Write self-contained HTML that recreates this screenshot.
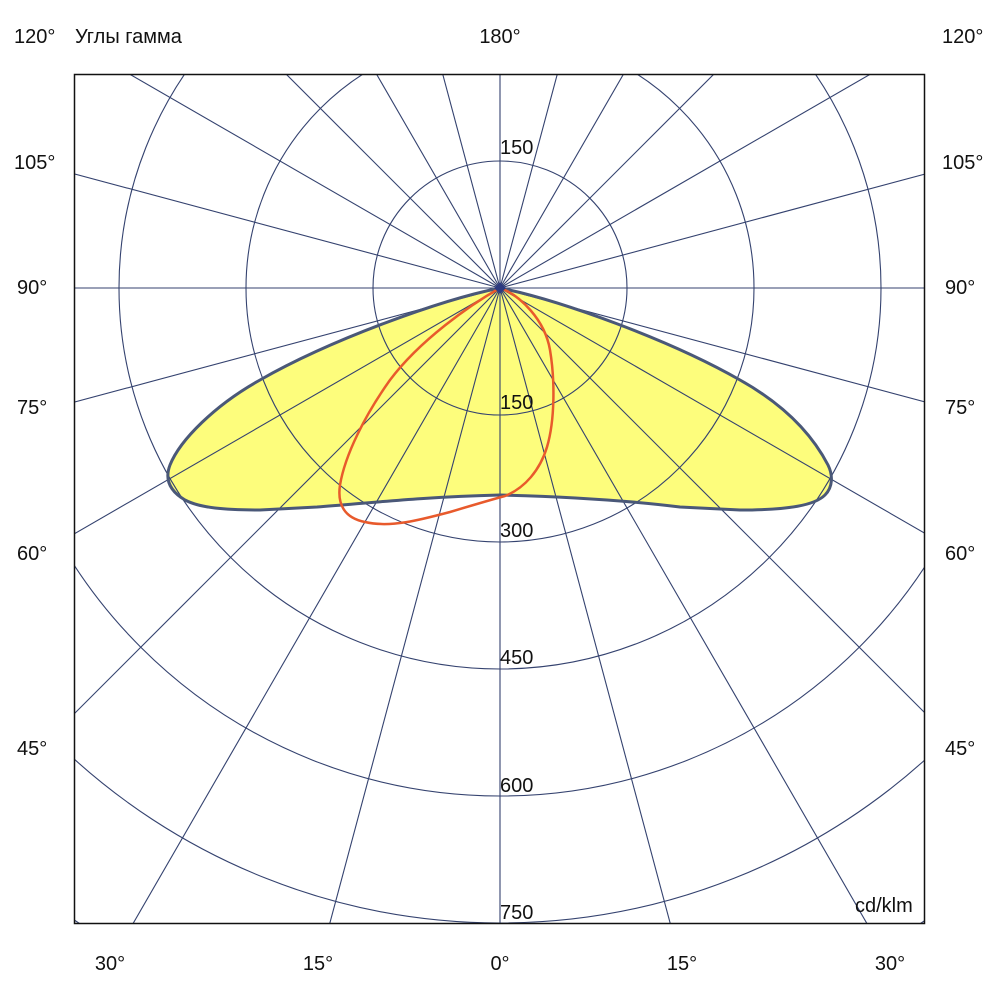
<!DOCTYPE html>
<html><head><meta charset="utf-8"><style>
html,body{margin:0;padding:0;background:#fff;width:1000px;height:1000px;overflow:hidden;}
svg{display:block;}
text{font-family:"Liberation Sans",Arial,sans-serif;font-size:20px;fill:#111;}
</style></head><body>
<svg width="1000" height="1000" viewBox="0 0 1000 1000" xmlns="http://www.w3.org/2000/svg">
<defs><clipPath id="c"><rect x="74" y="74" width="851" height="850"/></clipPath></defs>
<rect x="0" y="0" width="1000" height="1000" fill="#fff"/>
<g clip-path="url(#c)">
<path d="M500,288 C440,300 330,340 260,380 C215,405 180,440 170,465 C165,478 168,490 185,500 C200,508 225,510 260,510 L317,507 C370,503 420,497 500,495 C580,497 640,502 680,507 L740,510 C790,510 815,505 825,495 C833,487 833,475 828,465 C815,440 790,408 740,380 C670,340 560,300 500,288 Z" fill="#fdfd7c" stroke="none"/>
<g fill="none" stroke="#34426f" stroke-width="1.1">
<circle cx="500" cy="288" r="127"/>
<circle cx="500" cy="288" r="254"/>
<circle cx="500" cy="288" r="381"/>
<circle cx="500" cy="288" r="508"/>
<circle cx="500" cy="288" r="635"/>
<circle cx="500" cy="288" r="762"/>
<line x1="500" y1="288" x2="500" y2="1288"/>
<line x1="500" y1="288" x2="758.8" y2="1254"/>
<line x1="500" y1="288" x2="1000" y2="1154"/>
<line x1="500" y1="288" x2="1207" y2="995"/>
<line x1="500" y1="288" x2="1366" y2="788"/>
<line x1="500" y1="288" x2="1466" y2="547"/>
<line x1="500" y1="288" x2="1500" y2="288"/>
<line x1="500" y1="288" x2="1466" y2="29"/>
<line x1="500" y1="288" x2="1366" y2="-212"/>
<line x1="500" y1="288" x2="1207" y2="-419"/>
<line x1="500" y1="288" x2="1000" y2="-578"/>
<line x1="500" y1="288" x2="758.8" y2="-678"/>
<line x1="500" y1="288" x2="500" y2="-712"/>
<line x1="500" y1="288" x2="241.2" y2="-678"/>
<line x1="500" y1="288" x2="0" y2="-578"/>
<line x1="500" y1="288" x2="-207" y2="-419"/>
<line x1="500" y1="288" x2="-366" y2="-212"/>
<line x1="500" y1="288" x2="-466" y2="29"/>
<line x1="500" y1="288" x2="-500" y2="288"/>
<line x1="500" y1="288" x2="-466" y2="547"/>
<line x1="500" y1="288" x2="-366" y2="788"/>
<line x1="500" y1="288" x2="-207" y2="995"/>
<line x1="500" y1="288" x2="0" y2="1154"/>
<line x1="500" y1="288" x2="241.2" y2="1254"/>
</g>
<path d="M500,288 C440,300 330,340 260,380 C215,405 180,440 170,465 C165,478 168,490 185,500 C200,508 225,510 260,510 L317,507 C370,503 420,497 500,495 C580,497 640,502 680,507 L740,510 C790,510 815,505 825,495 C833,487 833,475 828,465 C815,440 790,408 740,380 C670,340 560,300 500,288 Z" fill="none" stroke="#4a5878" stroke-width="3"/>
<path d="M500,288 C470,305 420,340 390,380 C365,415 345,455 340,485 C337,505 345,518 365,522 C390,528 420,520 450,512 C470,506 490,500 505,496 C525,488 540,470 547,447 C555,420 555,380 550,350 C545,320 520,295 500,288 Z" fill="none" stroke="#e85a2c" stroke-width="2.5"/>
<path d="M500,282 L506,288 L500,294 L494,288 Z" fill="#2c3a80"/>
</g>
<rect x="74.5" y="74.5" width="850" height="849" fill="none" stroke="#111" stroke-width="1.5"/>
<text x="500" y="154">150</text>
<text x="500" y="409">150</text>
<text x="500" y="537">300</text>
<text x="500" y="664">450</text>
<text x="500" y="792">600</text>
<text x="500" y="919">750</text>
<text x="855" y="912">cd/klm</text>
<text x="14" y="43">120°</text>
<text x="75" y="43">Углы гамма</text>
<text x="500" y="43" text-anchor="middle">180°</text>
<text x="942" y="43">120°</text>
<text x="14" y="169">105°</text>
<text x="942" y="169">105°</text>
<text x="17" y="294">90°</text>
<text x="945" y="294">90°</text>
<text x="17" y="414">75°</text>
<text x="945" y="414">75°</text>
<text x="17" y="560">60°</text>
<text x="945" y="560">60°</text>
<text x="17" y="755">45°</text>
<text x="945" y="755">45°</text>
<text x="110" y="970" text-anchor="middle">30°</text>
<text x="318" y="970" text-anchor="middle">15°</text>
<text x="500" y="970" text-anchor="middle">0°</text>
<text x="682" y="970" text-anchor="middle">15°</text>
<text x="890" y="970" text-anchor="middle">30°</text>
</svg>
</body></html>
